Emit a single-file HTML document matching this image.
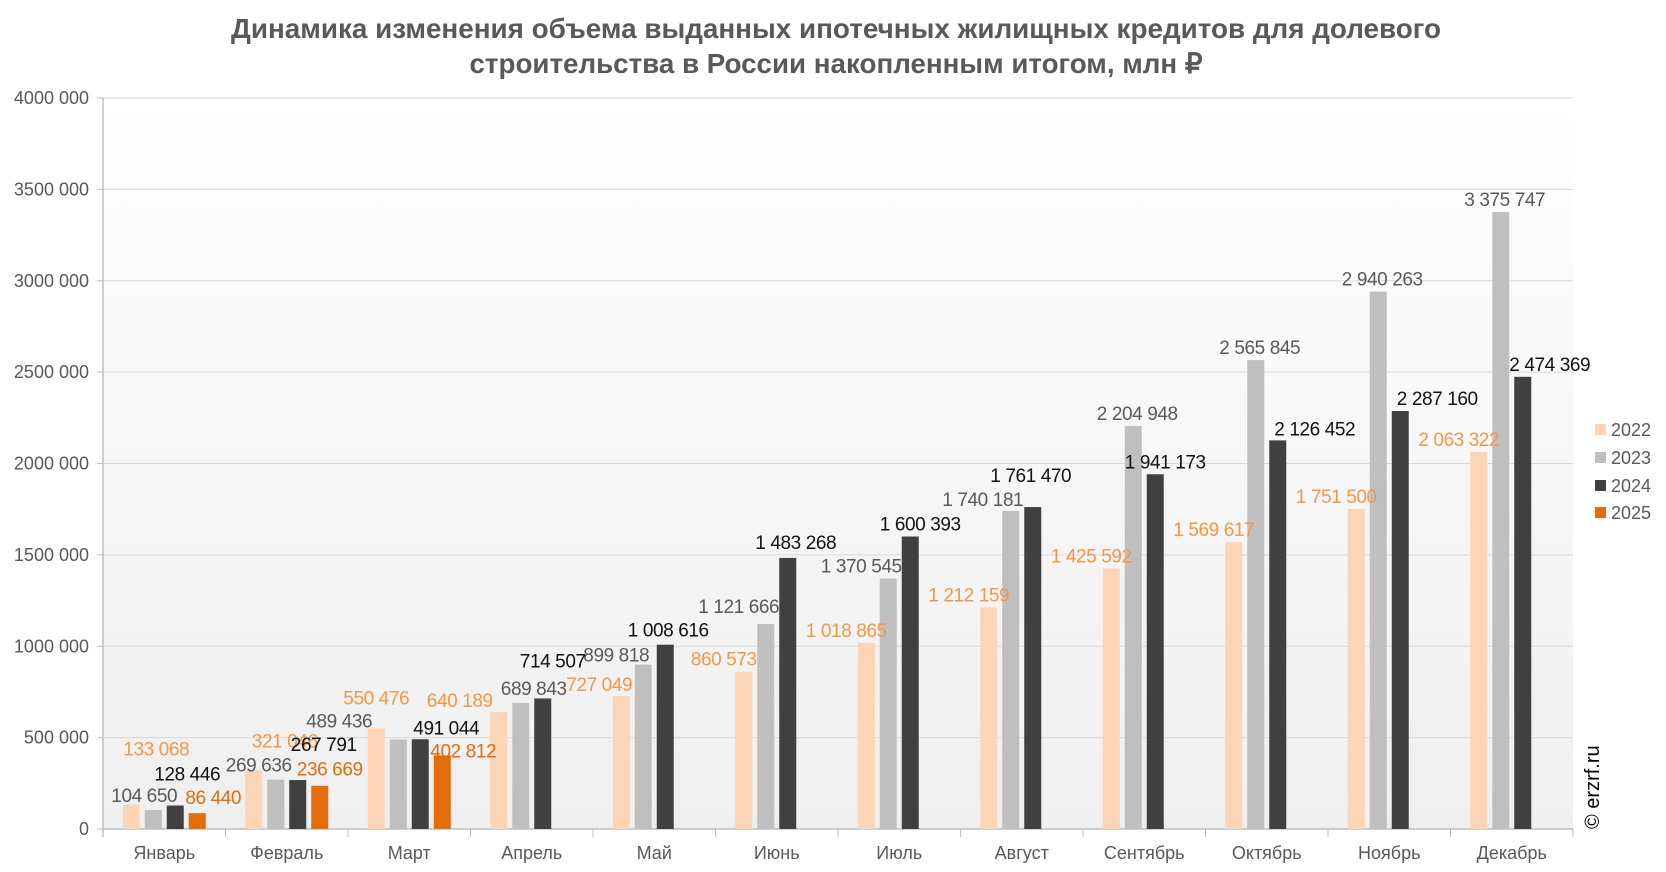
<!DOCTYPE html>
<html><head><meta charset="utf-8"><style>
html,body{margin:0;padding:0;background:#fff;}
svg{display:block;font-family:"Liberation Sans",sans-serif;}
</style></head><body>
<svg id="chart" width="1666" height="872" viewBox="0 0 1666 872">
<defs><linearGradient id="bg" x1="0" y1="0" x2="0" y2="1"><stop offset="0" stop-color="#ffffff"/><stop offset="1" stop-color="#efefef"/></linearGradient></defs>
<text x="836" y="38" text-anchor="middle" font-family="'Liberation Sans Narrow','Liberation Sans',sans-serif" font-weight="bold" font-size="28" fill="#595959" textLength="1210" lengthAdjust="spacingAndGlyphs">Динамика изменения объема выданных ипотечных жилищных кредитов для долевого</text>
<text x="836" y="73" text-anchor="middle" font-family="'Liberation Sans Narrow','Liberation Sans',sans-serif" font-weight="bold" font-size="28" fill="#595959" textLength="733" lengthAdjust="spacingAndGlyphs">строительства в России накопленным итогом, млн ₽</text>
<rect x="103" y="98" width="1470" height="731" fill="url(#bg)"/>
<g id="axes"></g><g id="bars"></g><g id="labels"></g>
<g font-size="18" fill="#595959">
<rect x="1595" y="424" width="11" height="11" fill="#fbd5b5"/><text x="1611" y="436">2022</text>
<rect x="1595" y="452" width="11" height="11" fill="#bfbfbf"/><text x="1611" y="464">2023</text>
<rect x="1595" y="480" width="11" height="11" fill="#404040"/><text x="1611" y="492">2024</text>
<rect x="1595" y="507" width="11" height="11" fill="#e46c0a"/><text x="1611" y="519">2025</text>
</g>
<text transform="translate(1599,829) rotate(-90)" font-size="20" fill="#000">© erzrf.ru</text>
</svg>
<script>
const months=["Январь","Февраль","Март","Апрель","Май","Июнь","Июль","Август","Сентябрь","Октябрь","Ноябрь","Декабрь"];
const s2022=[133068,321046,550476,640189,727049,860573,1018865,1212159,1425592,1569617,1751500,2063322];
const s2023=[104650,269636,489436,689843,899818,1121666,1370545,1740181,2204948,2565845,2940263,3375747];
const s2024=[128446,267791,491044,714507,1008616,1483268,1600393,1761470,1941173,2126452,2287160,2474369];
const s2025=[86440,236669,402812];
const yTicks=[0,500000,1000000,1500000,2000000,2500000,3000000,3500000,4000000];
const yTickLabels=["0","500 000","1000 000","1500 000","2000 000","2500 000","3000 000","3500 000","4000 000"];
const NS="http://www.w3.org/2000/svg";
const X0=103,X1=1573,Y0=829,Y1=98,YMAX=4000000;
const band=(X1-X0)/months.length;
// label layout nudges (offset of label centre from bar-top centre), keyed series-month
const nudge={"0-0":[25,-56],"1-0":[-9,-15],"2-0":[12,-32],"3-0":[16,-16],
"0-1":[31,-30],"1-1":[-17,-15],"2-1":[26,-36],"3-1":[10,-17],
"0-2":[0,-31],"1-2":[-59,-19],"2-2":[26,-12],"3-2":[21,-5],
"0-3":[-39,-12],"1-3":[13,-15],"2-3":[10,-38],
"0-4":[-22,-12],"1-4":[-27,-10],"2-4":[3,-15],
"1-5":[-27,-18],"1-6":[-27,-13],"1-7":[-28,-12],
"2-5":[8,-16],"2-7":[-2,-32],"2-9":[37,-12],"2-10":[37,-13],"2-11":[27,-13]};
const defDx=[-20,4,10,10];
function y(v){return Y0-(v/YMAX)*(Y0-Y1);}
function bx(i,k){return X0+band*i+band/2-41.5+k*22;}
function mk(tag,a,parent){const e=document.createElementNS(NS,tag);for(const k in a)e.setAttribute(k,a[k]);parent.appendChild(e);return e;}
function fmt(v){return String(v).replace(/\B(?=(\d{3})+(?!\d))/g," ");}
const axes=document.getElementById('axes'),bars=document.getElementById('bars'),labels=document.getElementById('labels');
yTicks.forEach((t,i)=>{
 const yy=y(t);
 if(t>0){const g=mk('line',{x1:X0,x2:X1,y1:yy,y2:yy,stroke:'#d9d9d9','stroke-width':1},axes);
 
 }
 const tk=mk('line',{x1:X0-6,x2:X0,y1:yy,y2:yy,stroke:'#bfbfbf'},axes);
 
 
 const tx=mk('text',{x:X0-14,y:yy+6,'text-anchor':'end','font-size':18,fill:'#595959'},axes);
 tx.textContent=yTickLabels[i];
 
 
});
const ya=mk('line',{x1:X0,x2:X0,y1:Y1,y2:Y0+8,stroke:'#bfbfbf','stroke-width':1.5},axes);


const xa=mk('line',{x1:X0,x2:X1,y1:Y0,y2:Y0,stroke:'#bfbfbf','stroke-width':1.5},axes);


for(let i=0;i<=months.length;i++){const t=mk('line',{x1:X0+band*i,x2:X0+band*i,y1:Y0,y2:Y0+8,stroke:'#bfbfbf'},axes);
 
 }
months.forEach((m,i)=>{const t=mk('text',{x:X0+band*i+band/2,y:Y0+30,'text-anchor':'middle','font-size':18,fill:'#595959'},axes);t.textContent=m;
 
 });
const series=[[s2022,'#fbd5b5','#f79646','2022'],[s2023,'#bfbfbf','#595959','2023'],[s2024,'#404040','#111111','2024'],[s2025,'#e46c0a','#e46c0a','2025']];
series.forEach(([arr,fill,lc,name],k)=>{
 arr.forEach((v,i)=>{
  const b=mk('rect',{x:bx(i,k),y:y(v),width:17,height:Y0-y(v),fill:fill},bars);
  
  
  const n=nudge[k+'-'+i]||[defDx[k],-13];
  const cx=bx(i,k)+8.5+n[0], cy=y(v)+n[1];
  const t=mk('text',{x:cx,y:cy+7,'text-anchor':'middle','font-size':19,fill:lc,'letter-spacing':'-0.4'},labels);
  t.textContent=fmt(v);
  
  
 });
});
</script>
</body></html>
